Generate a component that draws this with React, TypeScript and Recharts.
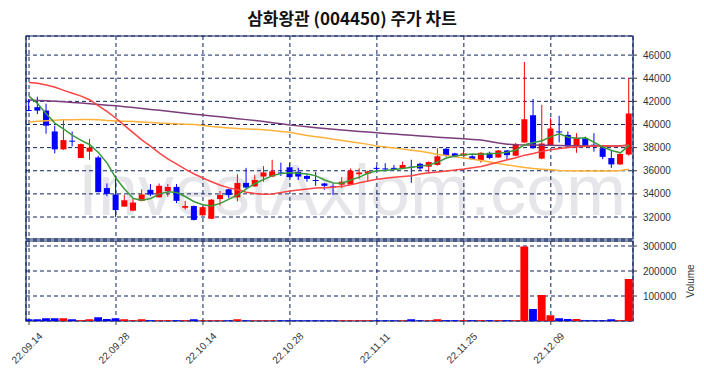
import React from "react";
import { ComposedChart, Bar, Line, XAxis, YAxis, CartesianGrid, ReferenceArea, Cell } from "recharts";

const dates = [
  "22.09.14","22.09.15","22.09.16","22.09.19","22.09.20","22.09.21","22.09.22","22.09.23","22.09.26","22.09.27",
  "22.09.28","22.09.29","22.09.30","22.10.04","22.10.05","22.10.06","22.10.07","22.10.11","22.10.12","22.10.13",
  "22.10.14","22.10.17","22.10.18","22.10.19","22.10.20","22.10.21","22.10.24","22.10.25","22.10.26","22.10.27",
  "22.10.28","22.10.31","22.11.01","22.11.02","22.11.03","22.11.04","22.11.07","22.11.08","22.11.09","22.11.10",
  "22.11.11","22.11.14","22.11.15","22.11.16","22.11.17","22.11.18","22.11.21","22.11.22","22.11.23","22.11.24",
  "22.11.25","22.11.28","22.11.29","22.11.30","22.12.01","22.12.02","22.12.05","22.12.06","22.12.07","22.12.08",
  "22.12.09","22.12.12","22.12.13","22.12.14","22.12.15","22.12.16","22.12.19","22.12.20","22.12.21","22.12.22",
];

const opens = [
  41250,41500,41200,39400,37850,38600,37100,37650,37150,34500,
  33950,32900,32550,33400,34350,33700,34250,34600,32800,32950,
  32150,31850,33550,34400,33700,34950,34650,35500,35500,35850,
  36300,35900,35550,35200,34900,34650,34800,34800,35700,35750,
  36250,36200,36250,36200,36350,36600,36350,36500,37900,37500,
  37300,37250,36900,37550,37150,37750,37300,38450,40800,37050,
  38200,39400,39100,38100,38800,38250,37950,37100,36550,37400,
];
const highs = [
  42200,42400,41800,39900,40400,39400,38350,38750,37300,34900,
  35600,33900,33550,34400,34850,34900,34850,34850,33400,33000,
  32900,33550,34250,34450,35700,36250,35650,36400,36950,36700,
  36650,36250,35750,35900,34950,34900,35450,36200,36200,36000,
  36400,36650,36500,36800,36950,36700,36800,37950,37950,37550,
  37850,37350,37600,37650,37800,37800,38400,45400,42200,41700,
  40550,40750,39400,39250,38950,39250,38000,37800,37500,44000,
];
const lows = [
  41150,40900,39200,37500,37800,38100,37100,36950,34150,33800,
  32000,32900,32500,33350,33800,33700,33750,33200,32650,31700,
  32100,31800,33000,33650,33350,34450,34600,35050,35450,35550,
  35400,35200,35050,34700,34350,33900,34500,34800,35300,35100,
  35950,35950,36050,36150,34950,36000,35750,36450,37200,37150,
  37250,36950,36700,37000,37100,37000,37250,38400,37900,37000,
  38150,38450,38050,37550,38050,37650,37000,36250,36500,37300,
];
const closes = [
  41200,41200,39900,37850,38650,38550,38300,38000,34150,34000,
  32600,33450,33250,33950,33950,34700,34600,33400,32950,31750,
  32850,33500,33900,33900,34950,34550,35200,35850,35950,35800,
  35450,35500,35300,35150,34700,34600,35050,36000,35850,35950,
  36200,36150,36200,36500,36300,36200,36750,37250,37300,37200,
  37500,37000,37550,37100,37750,37350,38300,40450,37950,38350,
  39650,39350,38100,38850,38100,38150,37200,36550,37450,40950,
];
const volumes = [
  7000,7000,11000,11000,11000,7000,3000,7000,15000,8000,
  11000,7000,3000,7000,3000,3000,3000,3000,3000,7000,
  2500,2500,2500,2500,7000,2500,2500,2500,2500,2500,
  2500,2500,2500,2500,2500,2500,2500,2500,2500,2500,
  2500,2500,2500,2500,7000,2500,2500,7000,3000,3000,
  3000,3000,3000,3000,3000,3000,3000,298000,48000,104000,
  23000,11000,8000,8000,3000,3000,3000,7000,3000,168000,
];
const ma5 = [
  42450,41800,40900,40100,39600,39050,38620,38250,37550,36640,
  35350,34400,33600,33450,33600,34000,34180,34120,33750,33320,
  33060,32950,33180,33550,33920,34430,34900,35250,35580,35760,
  35830,35780,35720,35560,35200,34950,34930,35200,35450,35800,
  36000,36020,36100,36200,36300,36400,36500,36750,37100,37280,
  37380,37440,37420,37480,37520,37600,37800,38250,38450,38600,
  38950,39200,38900,38800,38850,38450,38050,37750,37550,38200,
];
const ma20 = [
  43640,43570,43420,43220,42950,42700,42450,42120,41600,41120,
  40540,39900,39280,38650,38100,37530,37000,36580,36120,35720,
  35370,35050,34750,34520,34350,34150,34030,33960,34000,34130,
  34240,34340,34430,34500,34540,34580,34650,34780,34960,35120,
  35260,35360,35440,35500,35560,35710,35830,35900,35980,36070,
  36150,36260,36370,36560,36760,36950,37130,37350,37500,37680,
  37810,37930,38000,38070,38120,38150,38160,38150,38150,38220,
];
const ma60 = [
  40210,40270,40330,40370,40400,40420,40440,40440,40400,40340,
  40310,40280,40250,40220,40180,40120,40090,40060,40030,40000,
  39920,39830,39760,39700,39650,39620,39590,39540,39470,39400,
  39320,39180,39050,38950,38850,38720,38620,38500,38400,38280,
  38150,38050,37960,37870,37780,37680,37560,37400,37310,37200,
  37100,36990,36880,36760,36620,36500,36380,36280,36200,36140,
  36080,36030,36000,35990,35980,35970,35970,35980,36030,36120,
];
const ma120 = [
  42110,42080,42050,42010,41960,41900,41850,41790,41730,41670,
  41610,41540,41460,41380,41300,41230,41150,41060,40980,40890,
  40810,40740,40660,40580,40500,40420,40340,40250,40150,40060,
  39960,39880,39800,39720,39650,39590,39520,39460,39400,39340,
  39280,39230,39170,39120,39070,39010,38960,38900,38850,38810,
  38760,38710,38650,38520,38400,38300,38250,38220,38220,38210,
  38200,38180,38170,38160,38150,38140,38140,38150,38170,38200,
];

const dateTicks = [0, 10, 20, 30, 40, 50, 60];
const priceTicks = [32000, 34000, 36000, 38000, 40000, 42000, 44000, 46000];
const volumeTicks = [100000, 200000, 300000];

const X_DOMAIN: [number, number] = [-0.345, 69.45];
const PRICE_DOMAIN: [number, number] = [30100, 47650];
const VOL_DOMAIN: [number, number] = [0, 320000];

const rows = dates.map((d, i) => ({
  i,
  date: d,
  open: opens[i],
  high: highs[i],
  low: lows[i],
  close: closes[i],
  volume: volumes[i],
  ma5: ma5[i],
  ma20: ma20[i],
  ma60: ma60[i],
  ma120: ma120[i],
}));

const UP = "#ff0000";
const DOWN = "#0000ff";
const NAVY = "#0d2260";
const FONT = "'Liberation Sans', Arial, sans-serif";

const Candle = (props: any) => {
  const { x, y, width, height, payload } = props;
  if (x == null || y == null || !payload) return null;
  const { open, close, high, low } = payload;
  const color = close >= open ? UP : DOWN;
  const cx = x + width / 2;
  const top = Math.min(y, y + height);
  const h = Math.abs(height);
  const range = high - low;
  const pix = (v: number) => (range === 0 ? top : top + ((high - v) / range) * h);
  const bTop = pix(Math.max(open, close));
  const bBot = pix(Math.min(open, close));
  const bw = 6;
  return (
    <g>
      <line x1={cx} x2={cx} y1={top} y2={top + h} stroke={color} strokeWidth={1} />
      <rect x={cx - bw / 2} y={bTop} width={bw} height={Math.max(1, bBot - bTop)} fill={color} />
    </g>
  );
};

const DateTick = (props: any) => {
  const { x, y, payload } = props;
  const label = dates[payload.value] ?? "";
  const cx = x - 2;
  const cy = y + 21;
  return (
    <text
      x={cx}
      y={cy}
      textAnchor="middle"
      dominantBaseline="central"
      transform={`rotate(-45, ${cx}, ${cy})`}
      fontSize={10}
      fill="#333"
      fontFamily={FONT}
    >
      {label}
    </text>
  );
};

const VolumeLabel = (props: any) => {
  const vb = props.viewBox || {};
  const lx = vb.x + vb.width - 3;
  const ly = vb.y + vb.height / 2;
  return (
    <text
      x={lx}
      y={ly}
      textAnchor="middle"
      dominantBaseline="central"
      transform={`rotate(-90, ${lx}, ${ly})`}
      fontSize={10}
      fill="#333"
      fontFamily={FONT}
    >
      Volume
    </text>
  );
};

const tickStyle = { fontSize: 10, fill: "#333", fontFamily: FONT };

export default function App() {
  return (
    <div style={{ position: "absolute", left: 0, top: 0, width: 704, height: 378, background: "#fff", overflow: "hidden" }}>
      <div
        style={{
          position: "absolute",
          left: 0,
          top: 6,
          width: 704,
          textAlign: "center",
          fontFamily: "'Noto Sans CJK KR', sans-serif",
          fontWeight: 700,
          fontSize: 17,
          lineHeight: "24px",
          color: "#111",
        }}
      >
        삼화왕관 (004450) 주가 차트
      </div>
      <svg width={704} height={378} style={{ position: "absolute", left: 0, top: 0 }}>
        <text x={352} y={215} textAnchor="middle" fontSize={72} fill="#e6e6ea" fontFamily={FONT}>
          InvestAxiom.com
        </text>
      </svg>
      <div style={{ position: "absolute", left: 0, top: 0 }}>
        <ComposedChart width={704} height={240} data={rows} margin={{ top: 36, right: 11, bottom: 1, left: 26 }}>
          <XAxis dataKey="i" type="number" domain={X_DOMAIN} ticks={dateTicks} hide allowDataOverflow />
          <YAxis
            orientation="right"
            width={60}
            domain={PRICE_DOMAIN}
            ticks={priceTicks}
            allowDataOverflow
            axisLine={false}
            tickLine={{ stroke: "#333" }}
            tickSize={4}
            tickMargin={6}
            tick={tickStyle}
            interval={0}
          />
          <CartesianGrid stroke={NAVY} strokeDasharray="4 3" strokeWidth={1} />
          <Bar dataKey={(d: any) => [d.low, d.high]} shape={<Candle />} barSize={8} isAnimationActive={false} />
          <Line dataKey="ma120" stroke="#7a3c7a" strokeWidth={1.5} dot={false} isAnimationActive={false} />
          <Line dataKey="ma60" stroke="#ffb23a" strokeWidth={1.5} dot={false} isAnimationActive={false} />
          <Line dataKey="ma20" stroke="#ff4444" strokeWidth={1.5} dot={false} isAnimationActive={false} />
          <Line dataKey="ma5" stroke="#3a9a3a" strokeWidth={1.5} dot={false} isAnimationActive={false} />
          <ReferenceArea
            x1={X_DOMAIN[0]}
            x2={X_DOMAIN[1]}
            y1={PRICE_DOMAIN[0]}
            y2={PRICE_DOMAIN[1]}
            fill="none"
            stroke={NAVY}
            strokeWidth={1.2}
            ifOverflow="visible"
          />
        </ComposedChart>
      </div>
      <div style={{ position: "absolute", left: 0, top: 0 }}>
        <ComposedChart width={704} height={378} data={rows} margin={{ top: 241, right: 11, bottom: 0, left: 26 }}>
          <XAxis
            dataKey="i"
            type="number"
            domain={X_DOMAIN}
            ticks={dateTicks}
            allowDataOverflow
            axisLine={false}
            tickLine={{ stroke: "#333" }}
            tickSize={4}
            tickMargin={2}
            height={57}
            tick={<DateTick />}
            interval={0}
          />
          <YAxis
            orientation="right"
            width={60}
            domain={VOL_DOMAIN}
            ticks={volumeTicks}
            allowDataOverflow
            axisLine={false}
            tickLine={{ stroke: "#333" }}
            tickSize={4}
            tickMargin={6}
            tick={tickStyle}
            interval={0}
            label={<VolumeLabel />}
          />
          <CartesianGrid stroke={NAVY} strokeDasharray="4 3" strokeWidth={1} />
          <Bar dataKey="volume" barSize={9} isAnimationActive={false}>
            {rows.map((r, idx) => (
              <Cell key={idx} fill={r.close >= r.open ? UP : DOWN} />
            ))}
          </Bar>
          <ReferenceArea
            x1={X_DOMAIN[0]}
            x2={X_DOMAIN[1]}
            y1={VOL_DOMAIN[0]}
            y2={VOL_DOMAIN[1]}
            fill="none"
            stroke={NAVY}
            strokeWidth={1.2}
            ifOverflow="visible"
          />
        </ComposedChart>
      </div>
    </div>
  );
}
